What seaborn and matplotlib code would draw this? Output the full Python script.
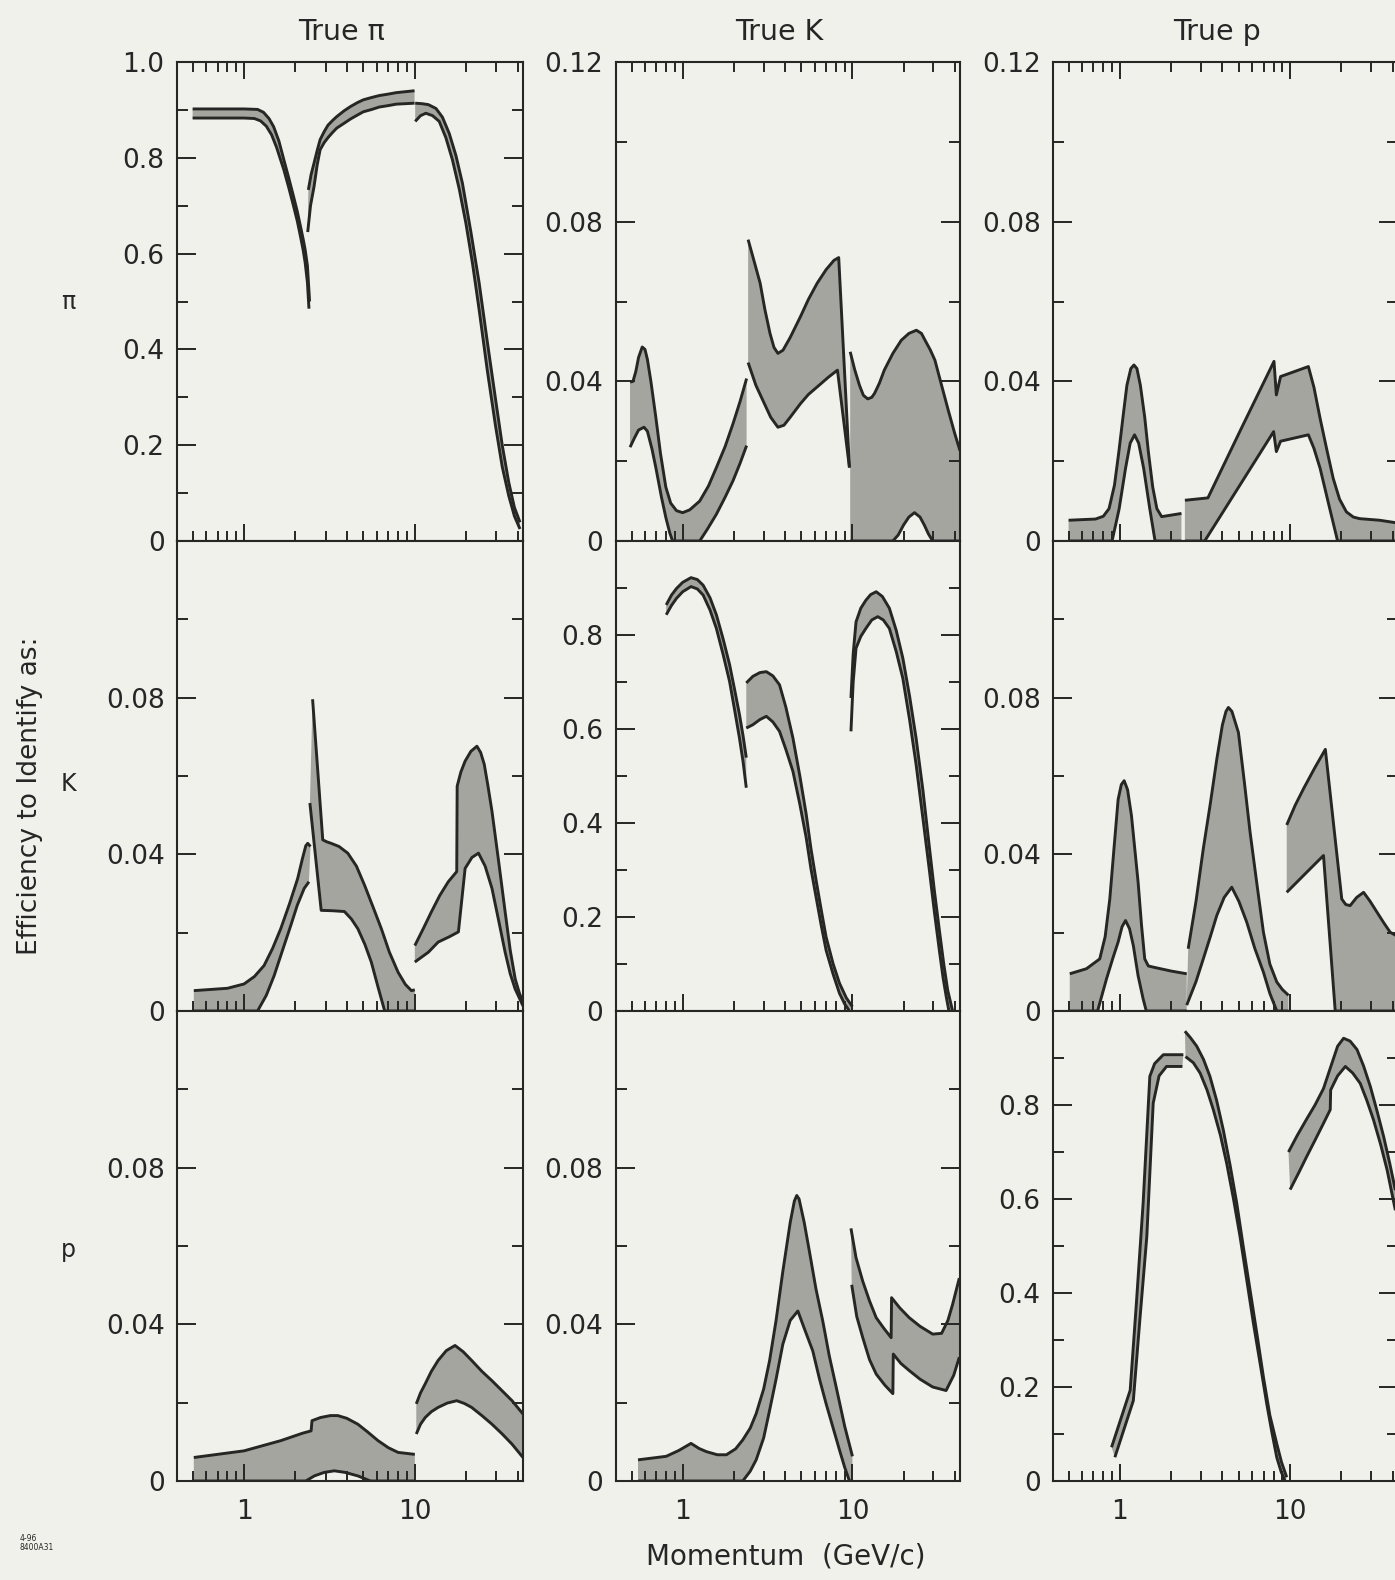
import matplotlib
matplotlib.use("Agg")
import matplotlib.pyplot as plt
import seaborn as sns
from matplotlib.ticker import FixedLocator, FixedFormatter, NullFormatter, LogLocator

# ---------------- data: (momentum GeV/c, efficiency) ----------------
# True pi identified as pi
PIPI_A_UP = [(0.50, 0.902), (0.80, 0.902), (1.00, 0.902), (1.20, 0.901), (1.30, 0.895), (1.40, 0.882),
             (1.49, 0.865), (1.60, 0.835), (1.71, 0.796), (1.83, 0.757), (1.95, 0.719), (2.05, 0.688),
             (2.14, 0.657), (2.22, 0.630), (2.28, 0.608), (2.35, 0.575), (2.42, 0.500)]
PIPI_A_LO = [(0.50, 0.883), (0.80, 0.883), (1.00, 0.883), (1.15, 0.882), (1.25, 0.877), (1.35, 0.866),
             (1.45, 0.848), (1.55, 0.822), (1.71, 0.775), (1.83, 0.737), (1.95, 0.699), (2.05, 0.668),
             (2.14, 0.636), (2.22, 0.607), (2.28, 0.581), (2.35, 0.540), (2.40, 0.485)]
PIPI_B_UP = [(2.38, 0.733), (2.47, 0.765), (2.57, 0.789), (2.68, 0.815), (2.79, 0.838), (2.95, 0.855),
             (3.10, 0.868), (3.30, 0.878), (3.49, 0.886), (3.85, 0.898), (4.20, 0.907), (4.60, 0.915),
             (4.99, 0.921), (5.60, 0.926), (6.20, 0.930), (7.00, 0.933), (7.78, 0.936), (8.80, 0.938),
             (9.96, 0.940)]
PIPI_B_LO = [(2.36, 0.645), (2.45, 0.700), (2.57, 0.740), (2.68, 0.785), (2.79, 0.817), (2.95, 0.832),
             (3.10, 0.842), (3.30, 0.853), (3.49, 0.862), (3.85, 0.872), (4.20, 0.881), (4.60, 0.889),
             (4.99, 0.896), (5.60, 0.901), (6.20, 0.906), (7.00, 0.909), (7.78, 0.912), (9.96, 0.914)]
PIPI_C_UP = [(10.05, 0.914), (11.0, 0.913), (12.0, 0.911), (13.3, 0.903), (14.5, 0.885), (15.9, 0.851),
             (17.4, 0.805), (19.0, 0.747), (21.3, 0.645), (23.8, 0.539), (26.6, 0.415), (29.7, 0.296),
             (32.5, 0.200), (35.5, 0.122), (38.3, 0.070), (41.3, 0.039)]
PIPI_C_LO = [(10.05, 0.876), (10.8, 0.888), (11.6, 0.893), (12.7, 0.888), (13.9, 0.876), (15.2, 0.842),
             (16.6, 0.796), (18.2, 0.735), (19.9, 0.664), (21.8, 0.578), (23.8, 0.483), (26.6, 0.355),
             (29.7, 0.240), (32.5, 0.155), (35.5, 0.094), (38.3, 0.052), (41.3, 0.025)]

# True K identified as pi
KPI_A_UP = [(0.49, 0.0398), (0.51, 0.0400), (0.53, 0.0425), (0.55, 0.046), (0.578, 0.0486), (0.60, 0.0480),
            (0.62, 0.0455), (0.65, 0.040), (0.695, 0.031), (0.74, 0.022), (0.796, 0.0135), (0.85, 0.0095),
            (0.92, 0.0076), (1.00, 0.0071), (1.10, 0.0078), (1.26, 0.010), (1.42, 0.0138), (1.58, 0.0184),
            (1.78, 0.0237), (1.98, 0.0294), (2.18, 0.035), (2.38, 0.0407)]
KPI_A_LO = [(0.49, 0.0235), (0.52, 0.0258), (0.55, 0.0278), (0.592, 0.0285), (0.62, 0.0275), (0.66, 0.023),
            (0.695, 0.0184), (0.75, 0.011), (0.796, 0.0059), (0.84, 0.002), (0.873, 0.0), (1.26, 0.0),
            (1.40, 0.003), (1.58, 0.0067), (1.78, 0.011), (1.98, 0.0151), (2.18, 0.0195), (2.38, 0.0239)]
KPI_B_UP = [(2.43, 0.0755), (2.60, 0.071), (2.86, 0.0646), (3.05, 0.058), (3.27, 0.052), (3.45, 0.0485),
            (3.64, 0.047), (3.90, 0.0478), (4.30, 0.051), (4.94, 0.0562), (5.50, 0.0605), (6.20, 0.0646),
            (7.00, 0.068), (7.78, 0.0703), (8.30, 0.071), (9.60, 0.0184)]
KPI_B_LO = [(2.43, 0.0447), (2.70, 0.039), (2.97, 0.0352), (3.30, 0.031), (3.64, 0.0285), (3.95, 0.029),
            (4.30, 0.031), (4.94, 0.0344), (5.50, 0.0367), (6.20, 0.0386), (7.20, 0.041), (8.16, 0.0428),
            (9.60, 0.0184)]
KPI_C_UP = [(9.7, 0.0474), (10.3, 0.043), (11.0, 0.039), (11.6, 0.0365), (12.3, 0.0356), (13.0, 0.036),
            (13.5, 0.037), (14.4, 0.0395), (15.4, 0.0428), (17.3, 0.047), (19.4, 0.0503), (21.5, 0.052),
            (23.8, 0.0528), (25.5, 0.052), (27.0, 0.050), (28.8, 0.0478), (30.6, 0.0453), (33.5, 0.039),
            (36.7, 0.0327), (40.0, 0.027), (43.0, 0.0226)]
KPI_C_LO = [(9.7, 0.0), (17.3, 0.0), (18.6, 0.0015), (20.0, 0.004), (21.5, 0.006), (23.2, 0.0071),
            (25.0, 0.006), (26.5, 0.004), (28.0, 0.0018), (29.7, 0.0), (43.0, 0.0)]

# True p identified as pi
PPI_A_UP = [(0.50, 0.0052), (0.72, 0.0055), (0.80, 0.0062), (0.864, 0.0081), (0.93, 0.014), (0.987, 0.0224),
            (1.05, 0.032), (1.10, 0.039), (1.16, 0.0432), (1.21, 0.0441), (1.26, 0.0432), (1.32, 0.039),
            (1.40, 0.031), (1.47, 0.0224), (1.56, 0.0135), (1.65, 0.0081), (1.76, 0.0061), (2.30, 0.0069)]
PPI_A_LO = [(0.50, 0.0), (0.90, 0.0), (0.99, 0.008), (1.08, 0.0182), (1.15, 0.0245), (1.22, 0.0266),
            (1.29, 0.0245), (1.38, 0.0182), (1.50, 0.008), (1.61, 0.0), (2.30, 0.0)]
PPI_B_UP = [(2.41, 0.0102), (3.29, 0.0108), (5.14, 0.028), (8.04, 0.045), (8.30, 0.0366), (8.79, 0.0412),
            (12.8, 0.0437), (13.8, 0.0385), (15.0, 0.0307), (16.4, 0.023), (17.9, 0.0157), (19.5, 0.0105),
            (21.4, 0.0073), (23.5, 0.006), (25.6, 0.0056), (33.5, 0.0052), (43.0, 0.0045)]
PPI_B_LO = [(2.41, 0.0), (3.15, 0.0), (8.0, 0.0274), (8.30, 0.0224), (8.79, 0.025), (12.8, 0.0266),
            (13.8, 0.0232), (15.0, 0.0182), (17.0, 0.0085), (19.0, 0.0), (43.0, 0.0)]

# True pi identified as K
PIK_A_UP = [(0.508, 0.0052), (0.80, 0.0058), (1.0, 0.0069), (1.15, 0.0088), (1.31, 0.0116), (1.47, 0.016),
            (1.64, 0.021), (1.85, 0.0275), (2.06, 0.0338), (2.20, 0.039), (2.30, 0.0422), (2.36, 0.0428),
            (2.45, 0.042)]
PIK_A_LO = [(0.508, 0.0), (1.2, 0.0), (1.35, 0.004), (1.5, 0.009), (1.68, 0.0155), (1.88, 0.0219),
            (2.05, 0.027), (2.25, 0.0313), (2.40, 0.033)]
PIK_B_UP = [(2.52, 0.0796), (2.89, 0.0437), (3.05, 0.0432), (3.24, 0.0428), (3.6, 0.042), (4.05, 0.0403),
            (4.55, 0.037), (5.08, 0.0321), (5.7, 0.0265), (6.37, 0.021), (7.1, 0.015), (7.98, 0.0099),
            (8.8, 0.0068), (9.55, 0.0052), (10.0, 0.0054)]
PIK_B_LO = [(2.43, 0.0531), (2.83, 0.0257), (3.3, 0.0256), (3.87, 0.0254), (4.25, 0.0235), (4.64, 0.021),
            (5.1, 0.017), (5.56, 0.0125), (6.1, 0.006), (6.66, 0.0), (10.0, 0.0)]
PIK_C_UP = [(10.0, 0.0167), (11.2, 0.021), (12.5, 0.0253), (14.0, 0.0295), (15.7, 0.033), (17.6, 0.0356),
            (17.7, 0.0574), (18.6, 0.061), (19.7, 0.0638), (21.3, 0.0663), (23.1, 0.0676), (24.3, 0.066),
            (25.5, 0.063), (26.8, 0.0575), (28.3, 0.051), (31.0, 0.038), (33.8, 0.0253), (36.2, 0.0155),
            (38.7, 0.0082), (41.0, 0.0045), (43.0, 0.0022)]
PIK_C_LO = [(10.0, 0.0125), (12.0, 0.015), (13.7, 0.0176), (16.0, 0.019), (18.0, 0.0202), (19.7, 0.0364),
            (21.6, 0.0392), (23.6, 0.0403), (25.8, 0.037), (28.3, 0.0313), (31.0, 0.023), (33.8, 0.015),
            (36.2, 0.0095), (38.7, 0.0056), (43.0, 0.0013)]

# True K identified as K
KK_A_UP = [(0.80, 0.864), (0.86, 0.885), (0.92, 0.899), (1.0, 0.912), (1.12, 0.922), (1.22, 0.918),
           (1.32, 0.906), (1.45, 0.879), (1.58, 0.843), (1.73, 0.792), (1.89, 0.737), (2.02, 0.685),
           (2.16, 0.631), (2.27, 0.585), (2.37, 0.539)]
KK_A_LO = [(0.80, 0.843), (0.86, 0.863), (0.92, 0.878), (1.0, 0.892), (1.12, 0.903), (1.22, 0.898),
           (1.32, 0.885), (1.45, 0.853), (1.58, 0.814), (1.73, 0.759), (1.89, 0.701), (2.02, 0.642),
           (2.16, 0.581), (2.27, 0.530), (2.37, 0.475)]
KK_B_UP = [(2.37, 0.698), (2.59, 0.712), (2.85, 0.720), (3.11, 0.722), (3.40, 0.713), (3.72, 0.694),
           (4.05, 0.647), (4.46, 0.581), (4.90, 0.500), (5.34, 0.419), (5.70, 0.345), (6.11, 0.278),
           (6.55, 0.215), (7.0, 0.157), (7.7, 0.100), (8.39, 0.059), (9.2, 0.028), (10.0, 0.009)]
KK_B_LO = [(2.37, 0.602), (2.59, 0.609), (2.85, 0.620), (3.11, 0.627), (3.40, 0.615), (3.72, 0.595),
           (4.05, 0.557), (4.46, 0.510), (4.90, 0.440), (5.34, 0.369), (5.70, 0.302), (6.11, 0.242),
           (6.55, 0.182), (7.0, 0.129), (7.7, 0.078), (8.39, 0.0375), (9.0, 0.015), (9.6, 0.0)]
KK_C_UP = [(9.8, 0.666), (10.1, 0.760), (10.5, 0.828), (11.2, 0.857), (12.0, 0.874), (12.8, 0.886),
           (13.8, 0.892), (15.0, 0.882), (16.5, 0.857), (18.1, 0.810), (19.8, 0.751), (21.7, 0.670),
           (23.7, 0.581), (26.0, 0.470), (28.4, 0.348), (30.4, 0.255), (32.5, 0.172), (34.5, 0.100),
           (36.4, 0.044), (38.9, 0.0)]
KK_C_LO = [(9.8, 0.595), (10.1, 0.700), (10.5, 0.772), (11.2, 0.797), (12.0, 0.814), (13.0, 0.832),
           (14.1, 0.839), (15.2, 0.832), (16.5, 0.814), (18.1, 0.765), (19.8, 0.708), (21.7, 0.620),
           (23.7, 0.525), (26.0, 0.410), (28.4, 0.299), (30.4, 0.210), (32.5, 0.129), (34.2, 0.070),
           (35.7, 0.030), (37.0, 0.0)]

# True p identified as K
PK_A_UP = [(0.508, 0.0095), (0.637, 0.0108), (0.762, 0.0133), (0.82, 0.019), (0.873, 0.0286), (0.93, 0.043),
           (0.977, 0.054), (1.02, 0.0578), (1.06, 0.0588), (1.11, 0.0565), (1.17, 0.0499), (1.22, 0.042),
           (1.28, 0.0329), (1.34, 0.022), (1.40, 0.0133), (1.47, 0.0115), (1.57, 0.0112), (2.0, 0.0102),
           (2.47, 0.0095)]
PK_A_LO = [(0.508, 0.0), (0.74, 0.0), (0.835, 0.0082), (0.91, 0.0135), (0.977, 0.0176), (1.03, 0.0215),
           (1.08, 0.0231), (1.14, 0.021), (1.2, 0.0167), (1.28, 0.009), (1.37, 0.0031), (1.43, 0.0),
           (2.47, 0.0)]
PK_B_UP = [(2.52, 0.0159), (2.8, 0.028), (3.09, 0.0414), (3.4, 0.053), (3.71, 0.0643), (4.0, 0.073),
           (4.2, 0.0765), (4.34, 0.0775), (4.55, 0.0765), (4.97, 0.0711), (5.4, 0.058), (5.82, 0.0456),
           (6.4, 0.032), (6.97, 0.0201), (7.6, 0.012), (8.35, 0.0074), (9.0, 0.0055), (9.78, 0.004)]
PK_B_LO = [(2.47, 0.0015), (2.8, 0.0075), (3.09, 0.0133), (3.4, 0.019), (3.71, 0.0244), (4.1, 0.029),
           (4.54, 0.0316), (5.0, 0.028), (5.56, 0.0227), (6.2, 0.016), (6.97, 0.0099), (7.6, 0.0045),
           (8.35, 0.0), (9.78, 0.0)]
PK_C_UP = [(9.55, 0.0475), (10.7, 0.0525), (12.0, 0.0568), (14.0, 0.0622), (16.1, 0.0668), (20.1, 0.0286),
           (21.2, 0.0272), (22.5, 0.0269), (24.6, 0.029), (27.0, 0.0303), (29.5, 0.028), (32.4, 0.0252),
           (35.5, 0.0225), (38.7, 0.0201), (43.0, 0.019)]
PK_C_LO = [(9.55, 0.0303), (12.5, 0.0354), (15.7, 0.0397), (18.4, 0.0), (43.0, 0.0)]

# True pi identified as p
PIP_A_UP = [(0.508, 0.006), (1.0, 0.0077), (1.64, 0.0103), (2.2, 0.0122), (2.47, 0.0128), (2.5, 0.0154),
            (2.8, 0.0162), (3.2, 0.0167), (3.54, 0.0167), (4.0, 0.016), (4.64, 0.0145), (5.3, 0.0125),
            (6.09, 0.0103), (7.0, 0.0085), (7.98, 0.0073), (10.0, 0.0068)]
PIP_A_LO = [(0.508, 0.0), (2.3, 0.0), (2.58, 0.0013), (2.95, 0.0022), (3.38, 0.0026), (3.9, 0.0022),
            (4.64, 0.0013), (5.5, 0.0), (10.0, 0.0)]
PIP_B_UP = [(10.2, 0.0197), (10.8, 0.0225), (11.5, 0.0248), (12.5, 0.028), (13.7, 0.0308), (15.3, 0.0333),
            (17.2, 0.0346), (19.2, 0.033), (21.5, 0.0308), (24.7, 0.028), (28.3, 0.0256), (32.5, 0.023),
            (37.1, 0.0205), (43.0, 0.0171)]
PIP_B_LO = [(10.2, 0.012), (10.8, 0.0145), (11.5, 0.0162), (12.5, 0.0177), (13.7, 0.0188), (15.5, 0.0199),
            (17.6, 0.0205), (19.5, 0.0198), (21.5, 0.0188), (24.7, 0.0167), (28.3, 0.0145), (32.5, 0.012),
            (37.1, 0.0094), (43.0, 0.006)]

# True K identified as p
KP_A_UP = [(0.546, 0.0054), (0.80, 0.0063), (0.95, 0.0078), (1.12, 0.0096), (1.25, 0.0083), (1.38, 0.0075),
           (1.6, 0.0067), (1.81, 0.0067), (2.05, 0.0082), (2.26, 0.0105), (2.5, 0.0135), (2.71, 0.0172),
           (3.0, 0.0235), (3.25, 0.0307), (3.55, 0.041), (3.89, 0.0535), (4.3, 0.066), (4.55, 0.0715),
           (4.7, 0.0729), (4.85, 0.072), (5.2, 0.066), (5.58, 0.0586), (6.1, 0.049), (6.69, 0.0408),
           (7.3, 0.032), (8.02, 0.024), (9.0, 0.014), (10.0, 0.0063)]
KP_A_LO = [(0.546, 0.0), (2.26, 0.0), (2.5, 0.0025), (2.71, 0.0054), (3.0, 0.011), (3.25, 0.018),
           (3.55, 0.026), (3.89, 0.0349), (4.3, 0.041), (4.77, 0.0434), (5.2, 0.039), (5.84, 0.0332),
           (6.4, 0.026), (7.0, 0.0197), (7.7, 0.0135), (8.39, 0.0079), (9.0, 0.0035), (9.6, 0.0), (10.0, 0.0)]
KP_B_UP = [(9.8, 0.0645), (10.5, 0.057), (11.5, 0.051), (12.6, 0.046), (13.8, 0.0417), (15.3, 0.039),
           (16.9, 0.0366), (17.0, 0.0468), (19.0, 0.0442), (21.6, 0.0417), (25.0, 0.0395), (29.7, 0.0375),
           (33.5, 0.0377), (36.5, 0.041), (38.9, 0.0451), (42.6, 0.0518)]
KP_B_LO = [(9.9, 0.0501), (10.6, 0.042), (11.5, 0.0366), (12.6, 0.031), (13.8, 0.0273), (15.5, 0.0245),
           (17.3, 0.0223), (17.4, 0.0324), (19.3, 0.030), (21.6, 0.0282), (25.0, 0.026), (29.7, 0.024),
           (35.6, 0.0231), (39.5, 0.027), (42.6, 0.0316)]

# True p identified as p
PP_A_UP = [(0.894, 0.0718), (1.15, 0.193), (1.25, 0.377), (1.37, 0.591), (1.5, 0.861), (1.6, 0.888),
           (1.8, 0.907), (2.36, 0.907)]
PP_A_LO = [(0.935, 0.0505), (1.2, 0.171), (1.31, 0.342), (1.44, 0.52), (1.57, 0.804), (1.7, 0.862),
           (1.88, 0.882), (2.33, 0.882)]
PP_B_UP = [(2.41, 0.957), (2.6, 0.943), (2.83, 0.925), (3.1, 0.897), (3.38, 0.861), (3.7, 0.810),
           (4.05, 0.747), (4.45, 0.670), (4.86, 0.591), (5.3, 0.500), (5.82, 0.406), (6.4, 0.310),
           (6.97, 0.221), (7.6, 0.140), (8.35, 0.079), (8.9, 0.040), (9.55, 0.008)]
PP_B_LO = [(2.43, 0.903), (2.7, 0.890), (2.96, 0.868), (3.25, 0.832), (3.54, 0.790), (3.9, 0.735),
           (4.24, 0.676), (4.65, 0.600), (5.08, 0.520), (5.55, 0.430), (6.09, 0.335), (6.7, 0.245),
           (7.29, 0.164), (7.8, 0.105), (8.35, 0.050), (8.85, 0.020), (9.34, 0.0)]
PP_C_UP = [(9.78, 0.700), (11.0, 0.735), (12.5, 0.770), (14.0, 0.800), (15.7, 0.835), (17.6, 0.889),
           (19.0, 0.925), (20.6, 0.942), (22.5, 0.936), (24.7, 0.918), (27.0, 0.883), (29.6, 0.839),
           (32.4, 0.787), (35.4, 0.733), (38.5, 0.675), (41.5, 0.619)]
PP_C_LO = [(10.0, 0.620), (11.2, 0.655), (12.5, 0.690), (14.0, 0.725), (15.7, 0.761), (17.2, 0.790),
           (17.3, 0.832), (19.0, 0.862), (21.1, 0.882), (23.3, 0.868), (25.8, 0.846), (28.2, 0.810),
           (30.9, 0.768), (34.0, 0.716), (37.1, 0.662), (41.5, 0.576)]

COL_TITLES = ["True \u03c0", "True K", "True p"]
ROW_LABELS = ["\u03c0", "K", "p"]
X_TICKS = [1, 10]
X_TICK_LABELS = ["1", "10"]
Y_TICKS_FULL = [0, 0.2, 0.4, 0.6, 0.8, 1.0]
Y_LABELS_FULL = ["0", "0.2", "0.4", "0.6", "0.8", "1.0"]
Y_TICKS_SMALL = [0, 0.04, 0.08, 0.12]
Y_LABELS_SMALL = ["0", "0.04", "0.08", "0.12"]

PANELS = {
    (0, 0): [(PIPI_A_UP, PIPI_A_LO), (PIPI_B_UP, PIPI_B_LO), (PIPI_C_UP, PIPI_C_LO)],
    (0, 1): [(KPI_A_UP, KPI_A_LO), (KPI_B_UP, KPI_B_LO), (KPI_C_UP, KPI_C_LO)],
    (0, 2): [(PPI_A_UP, PPI_A_LO), (PPI_B_UP, PPI_B_LO)],
    (1, 0): [(PIK_A_UP, PIK_A_LO), (PIK_B_UP, PIK_B_LO), (PIK_C_UP, PIK_C_LO)],
    (1, 1): [(KK_A_UP, KK_A_LO), (KK_B_UP, KK_B_LO), (KK_C_UP, KK_C_LO)],
    (1, 2): [(PK_A_UP, PK_A_LO), (PK_B_UP, PK_B_LO), (PK_C_UP, PK_C_LO)],
    (2, 0): [(PIP_A_UP, PIP_A_LO), (PIP_B_UP, PIP_B_LO)],
    (2, 1): [(KP_A_UP, KP_A_LO), (KP_B_UP, KP_B_LO)],
    (2, 2): [(PP_A_UP, PP_A_LO), (PP_B_UP, PP_B_LO), (PP_C_UP, PP_C_LO)],
}

# ---------------- style ----------------
sns.set_style("ticks")
plt.rcParams['font.family'] = ['DejaVu Sans']

BG = '#f1f1ec'
FILL = '#a5a5a0'
LINE = '#262624'
TXT = '#262626'

W, H = 1395, 1580
fig = plt.figure(figsize=(W / 100, H / 100), dpi=100, facecolor=BG)

col_left = [177, 616, 1053]
col_w = [346, 344, 345]
row_top = [62, 541, 1011]
row_h = [479, 470, 470]


def draw_band(ax, up, lo):
    pu = [p for p, _ in up]
    yu = [v for _, v in up]
    pl = [p for p, _ in lo]
    yl = [v for _, v in lo]
    ax.fill(pu + pl[::-1], yu + yl[::-1], color=FILL, lw=0, zorder=2)
    for px, py in ((pu, yu), (pl, yl)):
        sns.lineplot(x=px, y=py, ax=ax, sort=False, estimator=None, color=LINE,
                     lw=2.1, zorder=3, solid_joinstyle='round', solid_capstyle='butt')


for r in range(3):
    for c in range(3):
        left = col_left[c] / W
        bottom = 1 - (row_top[r] + row_h[r]) / H
        ax = fig.add_axes([left, bottom, col_w[c] / W, row_h[r] / H])
        ax.set_facecolor(BG)
        ax.set_xscale('log')
        full = (r == c)
        for up, lo in PANELS[(r, c)]:
            draw_band(ax, up, lo)
        ax.set_xlim(0.405, 43)
        if full:
            ax.set_ylim(0, 1.0)
            n = 6 if r == 0 else 5
            ax.yaxis.set_major_locator(FixedLocator(Y_TICKS_FULL[:n]))
            ax.yaxis.set_major_formatter(FixedFormatter(Y_LABELS_FULL[:n]))
            ax.yaxis.set_minor_locator(FixedLocator([0.1, 0.3, 0.5, 0.7, 0.9]))
        else:
            ax.set_ylim(0, 0.12)
            n = 4 if r == 0 else 3
            ax.yaxis.set_major_locator(FixedLocator(Y_TICKS_SMALL[:n]))
            ax.yaxis.set_major_formatter(FixedFormatter(Y_LABELS_SMALL[:n]))
            ax.yaxis.set_minor_locator(FixedLocator([0.02, 0.06, 0.10]))
        ax.xaxis.set_major_locator(FixedLocator(X_TICKS))
        ax.xaxis.set_minor_locator(LogLocator(base=10, subs=(2, 3, 4, 5, 6, 7, 8, 9), numticks=20))
        ax.xaxis.set_minor_formatter(NullFormatter())
        if r == 2:
            ax.xaxis.set_major_formatter(FixedFormatter(X_TICK_LABELS))
        else:
            ax.xaxis.set_major_formatter(NullFormatter())
        ax.set_xlabel('')
        ax.set_ylabel('')
        ax.set_axisbelow(False)
        ax.tick_params(axis='both', which='both', direction='in', colors=LINE, width=1.4,
                       labelcolor=TXT, labelsize=19)
        ax.tick_params(axis='y', which='both', left=True, right=True, pad=9)
        ax.tick_params(axis='y', which='major', length=13.5)
        ax.tick_params(axis='y', which='minor', length=8)
        ax.tick_params(axis='x', which='both', bottom=True, top=(r == 0), pad=13)
        ax.tick_params(axis='x', which='major', length=12)
        ax.tick_params(axis='x', which='minor', length=7.5)
        for s in ax.spines.values():
            s.set_visible(True)
            s.set_color(LINE)
            s.set_linewidth(1.5)
            s.set_zorder(4)

# ---------------- text ----------------
title_x = [341, 779, 1217]
for c in range(3):
    fig.text(title_x[c] / W, 1 - 32 / H, COL_TITLES[c], ha='center', va='center', fontsize=20.5, color=TXT)

row_label_y = [302, 784, 1250]
for r in range(3):
    fig.text(68.5 / W, 1 - row_label_y[r] / H, ROW_LABELS[r], ha='center', va='center', fontsize=17, color=TXT)

fig.text(30 / W, 1 - 796 / H, "Efficiency to Identify as:", rotation=90, ha='center', va='center',
         fontsize=19, color=TXT)
fig.text(786 / W, 1 - 1557 / H, "Momentum  (GeV/c)", ha='center', va='center', fontsize=20, color=TXT)
fig.text(20 / W, 1 - 1543 / H, "4-96\n8400A31", ha='left', va='center', fontsize=5.5, color=TXT,
         linespacing=1.1)

fig.savefig("out.png", dpi=100, facecolor=BG)
